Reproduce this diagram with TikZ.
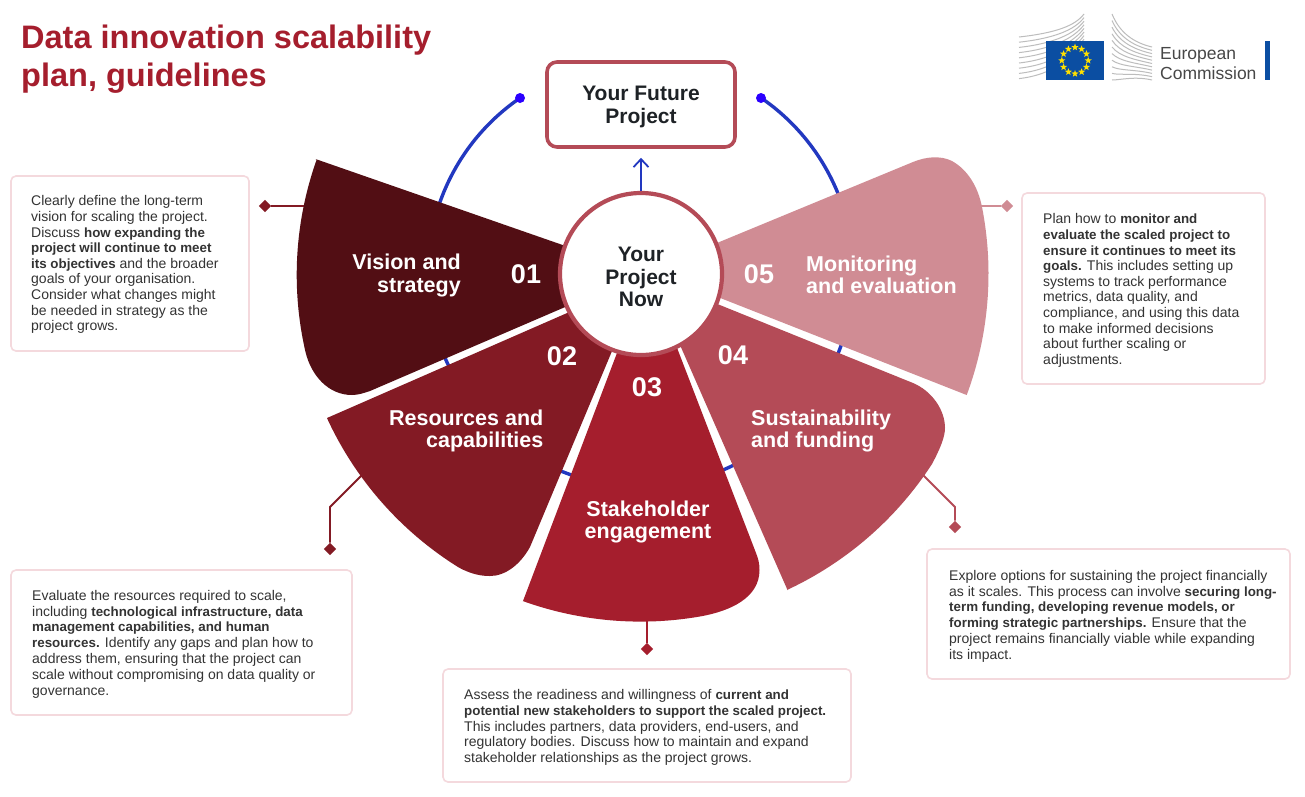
\documentclass[tikz,border=0pt]{standalone}
\usepackage{fontspec}
\setmainfont{Liberation Sans}
\usetikzlibrary{arrows.meta,shapes.geometric,calc}
\definecolor{segA}{HTML}{520E14}
\definecolor{segB}{HTML}{831A24}
\definecolor{segC}{HTML}{A51E2D}
\definecolor{segD}{HTML}{B44B57}
\definecolor{segE}{HTML}{D08C94}
\definecolor{cardline}{HTML}{F4D9DD}
\definecolor{arcblue}{HTML}{2238C0}
\definecolor{dotblue}{HTML}{2B00FF}
\definecolor{bodyink}{HTML}{333333}
\definecolor{darkink}{HTML}{1E2226}
\definecolor{eublue}{HTML}{0B4EA2}
\definecolor{eustar}{HTML}{FFE000}
\definecolor{wing}{HTML}{BDBDBD}
\newcommand{\bt}[1]{{\fontsize{13.35}{15.6}\selectfont\bfseries #1}}
\tikzset{
  card/.style={draw=cardline,line width=1.6pt,fill=white,rounded corners=5pt},
  bodytext/.style={anchor=north west,inner sep=0pt,align=left,text=bodyink,font=\fontsize{14}{15.6}\selectfont},
  widebody/.style={bodytext,font=\fontsize{14}{15.8}\selectfont},
  seglabel/.style={inner sep=0pt,text=white,font=\fontsize{21.5}{22.5}\selectfont\bfseries},
  segnum/.style={inner sep=0pt,text=white,font=\fontsize{27}{27}\selectfont\bfseries},
  hubtext/.style={inner sep=0pt,align=center,text=darkink,font=\fontsize{21}{22.4}\selectfont\bfseries},
  tipmark/.style={diamond,inner sep=0pt,minimum size=12.5pt},
  lead/.style={line width=1.8pt},
  wingline/.style={draw=wing,line width=1pt}
}
\begin{document}
\begin{tikzpicture}[x=1pt,y=-1pt]
\useasboundingbox (0,0) rectangle (1305,796);
\fill[white] (0,0) rectangle (1305,796);
% title
\node[anchor=north west,inner sep=0pt,align=left,text=segC,font=\fontsize{32.5}{38}\selectfont\bfseries] (title) at (21,25) {Data innovation scalability\\plan, guidelines};
% blue ring behind the segments
\coordinate (hubc) at (641,274);
\coordinate (dotL) at (520,98);
\coordinate (dotR) at (761,98);
\draw[arcblue,line width=3.4pt] (dotL) arc[start angle=235.5,end angle=-55.6,radius=213];
\fill[dotblue] (dotL) circle[radius=5];
\fill[dotblue] (dotR) circle[radius=5];
% cards
\draw[card] (11,176) rectangle (249,351);
\draw[card] (1022,193) rectangle (1265,384);
\draw[card] (11,570) rectangle (352,715);
\draw[card] (927,549) rectangle (1290,679);
\draw[card] (443,669) rectangle (851,782);
% leader lines with diamonds
\node[tipmark,fill=segB] (tipA) at (265,206) {};
\node[tipmark,fill=segB] (tipB) at (330,549) {};
\node[tipmark,fill=segC] (tipC) at (647,649) {};
\node[tipmark,fill=segD] (tipD) at (955,527) {};
\node[tipmark,fill=segE] (tipE) at (1007,206) {};
\coordinate (leadA) at (312,206);
\coordinate (leadB) at (366,471);
\coordinate (leadC) at (647,618);
\coordinate (leadD) at (921,473);
\coordinate (leadE) at (978,206);
\draw[lead,segB] (leadA) -- (tipA);
\draw[lead,segB] (leadB) -- (330,507) -- (tipB);
\draw[lead,segC] (leadC) -- (tipC);
\draw[lead,segD] (leadD) -- (955,507) -- (tipD);
\draw[lead,segE] (leadE) -- (tipE);
% segments
\fill[segA] (315.5,159) -- (600,258) -- (600,292) -- (370,391)
  .. controls (364,393) and (358,395) .. (352,395)
  .. controls (328,395) and (311,375) .. (305.5,352)
  arc[start angle=167,end angle=199.6,radius=343] -- cycle;
\fill[segB] (327,418) -- (590,303) -- (625,320) -- (530,547)
  .. controls (520,565) and (505,576) .. (490,576)
  .. controls (483,576) and (472,575) .. (458,567)
  arc[start angle=122,end angle=155.3,radius=346] -- cycle;
\fill[segC] (523,601) -- (620,345) -- (674,340) -- (756,553)
  .. controls (758,558) and (759.5,563) .. (759.5,570)
  .. controls (759.5,598) and (730,611) .. (701,616.3)
  arc[start angle=80,end angle=109.8,radius=348] -- cycle;
\fill[segD] (787.5,590) -- (680,345) -- (700,297) -- (913,383)
  .. controls (932,391) and (945,410) .. (945,428)
  .. controls (945,437) and (940,449) .. (932,464)
  arc[start angle=33,end angle=65,radius=348] -- cycle;
\fill[segE] (700,250) -- (913,162)
  .. controls (925,157) and (940,155) .. (952,161)
  .. controls (968,170) and (978,187) .. (982,207)
  arc[start angle=-11.1,end angle=20.4,radius=347.5] -- (700,290) -- cycle;
% hub and future box
\node[circle,draw=segD,fill=white,line width=4.2pt,minimum size=162pt,inner sep=0pt] (now) at (hubc) {};
\node[hubtext] (nowtext) at (641,277) {Your\\Project\\Now};
\node[draw=segD,fill=white,line width=3.6pt,rounded corners=10pt,minimum width=188pt,minimum height=85pt,inner sep=0pt,hubtext] (future) at (641,104.5) {\rule{0pt}{19pt}Your Future\\Project};
\draw[arcblue,line width=2pt,-{Straight Barb[length=8pt,width=15pt,line width=1.8pt]},shorten >=9pt] (now.north) -- (future.south);
% segment labels
\node[seglabel,anchor=east,align=right] (labA) at (461,275.5) {Vision and\\strategy};
\node[seglabel,anchor=east,align=right] (labB) at (543.5,431) {Resources and\\capabilities};
\node[seglabel,align=center] (labC) at (648,522) {Stakeholder\\engagement};
\node[seglabel,anchor=west,align=left] (labD) at (751,431) {Sustainability\\and funding};
\node[seglabel,anchor=west,align=left] (labE) at (806,275) {Monitoring\\and evaluation};
\node[segnum] (numA) at (526,274) {01};
\node[segnum] (numB) at (562,356) {02};
\node[segnum] (numC) at (647,387) {03};
\node[segnum] (numD) at (733,355) {04};
\node[segnum] (numE) at (759,274) {05};
% card texts
\node[bodytext] (txtA) at (31,195.5) {Clearly define the long-term\\vision for scaling the project.\\Discuss \bt{how expanding the}\\\bt{project will continue to meet}\\\bt{its objectives} and the broader\\goals of your organisation.\\Consider what changes might\\be needed in strategy as the\\project grows.};
\node[bodytext] (txtE) at (1043,213.5) {Plan how to \bt{monitor and}\\\bt{evaluate the scaled project to}\\\bt{ensure it continues to meet its}\\\bt{goals.} This includes setting up\\systems to track performance\\metrics, data quality, and\\compliance, and using this data\\to make informed decisions\\about further scaling or\\adjustments.};
\node[widebody] (txtB) at (32,590) {Evaluate the resources required to scale,\\including \bt{technological infrastructure, data}\\\bt{management capabilities, and human}\\\bt{resources.} Identify any gaps and plan how to\\address them, ensuring that the project can\\scale without compromising on data quality or\\governance.};
\node[widebody] (txtD) at (949,570) {Explore options for sustaining the project financially\\as it scales. This process can involve \bt{securing long-}\\\bt{term funding, developing revenue models, or}\\\bt{forming strategic partnerships.} Ensure that the\\project remains financially viable while expanding\\its impact.};
\node[bodytext] (txtC) at (464,689.5) {Assess the readiness and willingness of \bt{current and}\\\bt{potential new stakeholders to support the scaled project.}\\This includes partners, data providers, end-users, and\\regulatory bodies. Discuss how to maintain and expand\\stakeholder relationships as the project grows.};
% logo: building wings
\foreach \i in {0,...,8}{
  \pgfmathsetmacro{\yl}{37+\i*5.2}
  \pgfmathsetmacro{\yr}{14+\i*3.6}
  \draw[wingline] (1019,\yl) .. controls (1055,\yl-4) and (1075,\yr+12) .. (1084,\yr);
}
\foreach \i in {0,...,10}{
  \pgfmathsetmacro{\yl}{14+\i*6.6}
  \pgfmathsetmacro{\yr}{47+\i*3.3}
  \draw[wingline] (1112,\yl) .. controls (1120,\yl+0.6*\yr-0.6*\yl) and (1135,\yr-4) .. (1152,\yr);
}
\fill[eublue] (1046,41) rectangle (1104,80);
\foreach \a in {0,30,...,330}{
  \node[star,star points=5,star point ratio=2.4,fill=eustar,inner sep=0pt,minimum size=7.5pt,name=st\a] at ($(1075,60.5)+(\a:13.2)$) {};
}
\fill[eublue] (1265,41) rectangle (1270,80);
\node[anchor=west,inner sep=0pt,align=left,text=black!72,font=\fontsize{17.5}{19.2}\selectfont] (ec) at (1160,63.5) {European\\Commission};
\end{tikzpicture}
\end{document}
